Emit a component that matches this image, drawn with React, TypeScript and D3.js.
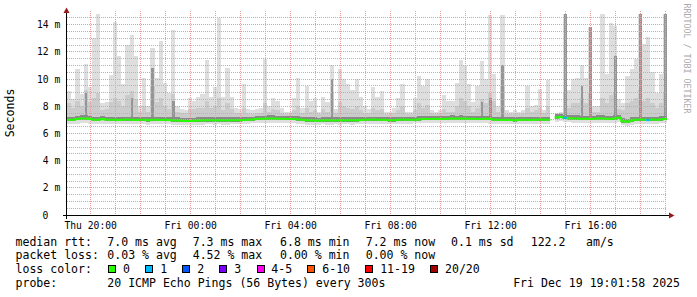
import React from "react";
import * as d3 from "d3";

// ---------- data ----------
const START = new Date(2025, 11, 18, 19, 5);
const END = new Date(2025, 11, 19, 19, 5);
const STEP_MIN = 10;

// top of the lightest smoke (max ping), ms
const smokeMax = [
  9.1, 8.5, 10.7, 8.9, 11.1, 9.4, 13.0, 14.8, 8.2, 8.3,
  10.3, 14.2, 11.7, 9.6, 12.5, 13.2, 11.7, 8.0, 10.1, 8.0,
  12.3, 10.1, 12.8, 9.7, 9.0, 13.6, 8.0, 7.8, 7.7, 8.6,
  8.4, 8.7, 8.9, 11.4, 8.7, 9.4, 14.5, 8.7, 10.8, 8.7,
  7.9, 7.8, 9.6, 7.8, 7.7, 7.8, 7.9, 11.5, 8.0, 8.6,
  8.4, 7.9, 7.6, 7.6, 8.6, 10.1, 7.9, 9.5, 8.4, 8.6,
  7.6, 8.7, 8.3, 11.0, 7.8, 10.7, 10.0, 9.6, 9.2, 10.0,
  8.7, 8.0, 7.8, 9.4, 8.7, 9.1, 7.6, 7.6, 7.9, 8.6,
  9.6, 7.6, 7.6, 8.6, 10.2, 9.5, 10.0, 7.7, 7.6, 7.7,
  8.8, 8.4, 8.4, 9.7, 11.4, 11.0, 9.6, 8.3, 9.5, 11.3,
  10.0, 14.7, 10.4, 8.0, 14.7, 7.7, 7.6, 7.7, 7.6, 7.7,
  9.5, 8.0, 8.1, 9.3, 7.7, 9.9, NaN, 7.5, 7.6, 14.8,
  9.2, 10.0, 10.1, 11.0, 10.1, 13.8, 8.0, 8.0, 14.8, 10.4,
  14.1, 13.9, 8.5, 8.2, 10.2, 10.7, 11.5, 14.8, 12.6, 13.1,
  10.5, 9.0, 10.4, 14.8,
];

// top of the medium smoke, ms
const smokeMid = [
  8.2, 7.9, 8.4, 8.0, 9.2, 8.3, 8.6, 9.0, 7.7, 7.8,
  8.3, 8.6, 8.4, 8.0, 8.8, 9.1, 8.5, 7.6, 8.0, 7.6,
  9.5, 8.3, 8.6, 8.0, 7.8, 8.9, 7.6, 7.5, 7.5, 7.8,
  7.8, 7.9, 7.9, 8.4, 7.9, 8.0, 8.6, 7.7, 8.2, 7.8,
  7.5, 7.5, 7.9, 7.5, 7.4, 7.5, 7.5, 8.2, 7.6, 7.8,
  7.7, 7.5, 7.4, 7.4, 7.7, 8.0, 7.5, 7.9, 7.6, 7.7,
  7.4, 7.8, 7.6, 9.0, 7.5, 8.3, 8.0, 7.9, 7.8, 8.0,
  7.7, 7.5, 7.5, 7.9, 7.7, 7.8, 7.4, 7.4, 7.5, 7.7,
  8.0, 7.4, 7.4, 7.7, 8.2, 7.9, 8.1, 7.5, 7.4, 7.5,
  7.8, 7.6, 7.6, 8.0, 8.6, 8.4, 8.0, 7.6, 7.9, 8.5,
  8.2, 9.0, 8.4, 7.6, 9.5, 7.4, 7.4, 7.5, 7.4, 7.5,
  7.9, 7.6, 7.7, 7.9, 7.5, 8.0, NaN, 7.4, 7.5, 9.0,
  7.9, 8.2, 8.2, 8.6, 8.2, 9.0, 7.6, 7.6, 8.6, 8.2,
  8.8, 9.0, 7.8, 7.7, 8.2, 8.4, 8.6, 9.2, 8.4, 8.6,
  8.2, 7.9, 8.2, 9.0,
];

// dark smoke columns (0 = none), ms
const smokeDark = [
  0, 0, 0, 0, 9.0, 0, 0, 0, 0, 0,
  0, 0, 0, 0, 0, 8.6, 0, 0, 0, 0,
  10.8, 0, 0, 0, 0, 8.4, 0, 0, 0, 0,
  0, 0, 0, 0, 0, 0, 0, 0, 0, 0,
  0, 0, 0, 0, 0, 0, 0, 0, 0, 0,
  0, 0, 0, 0, 0, 0, 0, 0, 0, 0,
  0, 0, 0, 10.0, 0, 0, 0, 0, 0, 0,
  0, 0, 0, 0, 0, 0, 0, 0, 0, 0,
  0, 0, 0, 0, 0, 0, 0, 0, 0, 0,
  0, 0, 0, 0, 0, 0, 0, 0, 0, 8.3,
  0, 8.6, 0, 0, 11.0, 0, 0, 0, 0, 0,
  0, 0, 0, 0, 0, 0, 0, 0, 0, 14.8,
  0, 0, 0, 9.5, 0, 13.8, 0, 0, 0, 0,
  0, 11.7, 0, 0, 0, 0, 0, 14.8, 0, 0,
  0, 0, 0, 14.8,
];

// bottom of the smoke (min ping), ms
const smokeLow = [
  6.7, 6.7, 6.72, 6.75, 6.75, 6.72, 6.7, 6.7, 6.72, 6.7,
  6.68, 6.7, 6.7, 6.68, 6.7, 6.7, 6.68, 6.7, 6.7, 6.65,
  6.68, 6.7, 6.68, 6.7, 6.68, 6.65, 6.65, 6.63, 6.62, 6.62,
  6.63, 6.65, 6.65, 6.67, 6.67, 6.65, 6.67, 6.65, 6.65, 6.67,
  6.67, 6.68, 6.7, 6.72, 6.75, 6.77, 6.78, 6.8, 6.8, 6.78,
  6.77, 6.75, 6.75, 6.75, 6.73, 6.7, 6.67, 6.65, 6.65, 6.63,
  6.65, 6.67, 6.65, 6.65, 6.67, 6.65, 6.67, 6.67, 6.65, 6.68,
  6.7, 6.7, 6.72, 6.7, 6.7, 6.68, 6.67, 6.67, 6.7, 6.72,
  6.7, 6.7, 6.7, 6.73, 6.75, 6.75, 6.75, 6.77, 6.75, 6.75,
  6.78, 6.8, 6.78, 6.8, 6.77, 6.78, 6.78, 6.75, 6.75, 6.77,
  6.75, 6.7, 6.7, 6.68, 6.7, 6.68, 6.67, 6.68, 6.7, 6.7,
  6.68, 6.7, 6.72, 6.7, 6.7, 6.7, NaN, 6.87, 6.9, 6.85,
  6.82, 6.8, 6.8, 6.75, 6.77, 6.75, 6.78, 6.8, 6.8, 6.77,
  6.75, 6.8, 6.85, 6.6, 6.55, 6.65, 6.7, 6.72, 6.7, 6.68,
  6.72, 6.7, 6.73, 6.75,
];

// median rtt, ms
const median = [
  7.0, 7.0, 7.05, 7.1, 7.1, 7.05, 7.0, 7.0, 7.05, 7.0,
  7.0, 7.0, 6.98, 7.0, 7.02, 7.0, 6.98, 7.0, 7.0, 6.97,
  7.0, 7.0, 6.98, 7.0, 6.98, 6.95, 6.95, 6.93, 6.92, 6.92,
  6.93, 6.95, 6.95, 6.97, 6.97, 6.95, 6.97, 6.95, 6.95, 6.97,
  6.97, 6.97, 6.98, 7.0, 7.02, 7.05, 7.07, 7.08, 7.1, 7.1,
  7.08, 7.07, 7.05, 7.05, 7.05, 7.03, 7.0, 6.97, 6.95, 6.95,
  6.93, 6.95, 6.97, 6.95, 6.95, 6.97, 6.95, 6.97, 6.97, 6.95,
  6.98, 7.0, 7.0, 7.02, 7.0, 7.0, 6.98, 6.97, 6.97, 7.0,
  7.02, 7.0, 7.0, 7.0, 7.03, 7.05, 7.05, 7.05, 7.07, 7.05,
  7.05, 7.08, 7.1, 7.08, 7.1, 7.07, 7.08, 7.08, 7.05, 7.05,
  7.07, 7.05, 7.0, 7.0, 6.98, 7.0, 6.98, 6.97, 6.98, 7.0,
  7.0, 6.98, 7.0, 7.02, 7.0, 7.0, NaN, 7.17, 7.2, 7.15,
  7.12, 7.1, 7.1, 7.05, 7.07, 7.05, 7.08, 7.1, 7.1, 7.07,
  7.05, 7.1, 7.15, 6.9, 6.85, 6.95, 7.0, 7.02, 7.0, 6.98,
  7.02, 7.0, 7.03, 7.05,
];

// lost pings per step (of 20)
const lossCount = [
  0, 0, 0, 0, 0, 0, 0, 0, 0, 0, 0, 0, 0, 0, 0, 0, 0, 0, 0, 0,
  0, 0, 0, 0, 0, 0, 0, 0, 0, 0, 0, 0, 0, 0, 0, 0, 0, 0, 0, 0,
  0, 0, 0, 0, 0, 0, 0, 0, 0, 0, 0, 0, 0, 0, 0, 0, 0, 0, 0, 0,
  0, 0, 0, 0, 0, 0, 0, 0, 0, 0, 0, 0, 0, 0, 0, 0, 0, 0, 0, 0,
  0, 0, 0, 0, 0, 0, 0, 0, 0, 0, 0, 0, 0, 0, 0, 0, 0, 0, 0, 0,
  0, 0, 0, 0, 0, 0, 0, 0, 0, 0, 0, 0, 0, 0, 0, 0, 0, 0, 0, 1,
  0, 0, 0, 0, 0, 0, 0, 0, 0, 0, 0, 0, 0, 0, 0, 0, 0, 0, 0, 1,
  0, 0, 0, 0,
];

const yTicks = [0, 2, 4, 6, 8, 10, 12, 14];
const lossLabels = ["0", "1", "2", "3", "4-5", "6-10", "11-19", "20/20"];
const lossMax = [0, 1, 2, 3, 5, 10, 19, 20];
const lossColors = ["#26ff00", "#00b8ff", "#0059ff", "#7a00ff", "#ff00f0", "#ff5500", "#ff0000", "#a10000"];
const rttStats = ["7.0 ms avg", "7.3 ms max", "6.8 ms min", "7.2 ms now", "0.1 ms sd", "122.2", "am/s"];
const lossStats = ["0.03 % avg", "4.52 % max", "0.00 % min", "0.00 % now"];
const probeText = "20 ICMP Echo Pings (56 Bytes) every 300s";
const dateText = "Fri Dec 19 19:01:58 2025";

// ---------- chart ----------
const MONO = "'DejaVu Sans Mono', monospace";

function lossColor(n: number) {
  const k = lossMax.findIndex((m) => n <= m);
  return lossColors[k < 0 ? lossColors.length - 1 : k];
}

export default function App() {
  const x = d3.scaleTime().domain([START, END]).range([67, 667]);
  const y = d3.scaleLinear().domain([0, 15]).range([215, 11]);
  const tAt = (i: number) => d3.timeMinute.offset(START, i * STEP_MIN);

  const bins = median.map((m, i) => ({
    i,
    x0: x(tAt(i)),
    x1: x(tAt(i + 1)),
    med: m,
    lo: smokeLow[i],
    mid: smokeMid[i],
    hi: smokeMax[i],
    dark: smokeDark[i],
    loss: lossCount[i],
  }));
  const valid = bins.filter((b) => !isNaN(b.med));

  const medPts: { x: number; v: number }[] = [];
  bins.forEach((b) => {
    medPts.push({ x: b.x0, v: b.med });
    medPts.push({ x: b.x1, v: b.med });
  });
  const medLine = d3
    .line<{ x: number; v: number }>()
    .defined((d) => !isNaN(d.v))
    .x((d) => d.x)
    .y((d) => y(d.v));

  const hours = d3.timeHour.range(d3.timeHour.ceil(START), END);
  const labelHours = hours.filter((h) => h.getHours() % 4 === 0);
  const fmt = d3.timeFormat("%a %H:%M");
  const minorY = d3.range(0.5, 15, 0.5).filter((v) => v % 2 !== 0);
  const majorY = yTicks.filter((v) => v > 0);

  const px = (v: number) => Math.round(v) + 0.5;
  const py = (v: number) => Math.floor(v) + 0.5;

  const statX = [107.3, 192.7, 280, 365.7, 451, 530.7, 586];
  const rowY = [245.7, 259.4, 273.1, 286.8];
  const charW = 6.95;

  const legendItems: { sx: number; lx: number; label: string; color: string }[] = [];
  let cx = 108.3;
  lossLabels.forEach((lab, k) => {
    legendItems.push({ sx: cx, lx: cx + 14.8, label: lab, color: lossColors[k] });
    cx = cx + 14.8 + lab.length * charW + 15.3;
  });

  return (
    <svg
      width={697}
      height={297}
      style={{ position: "absolute", left: 0, top: 0, background: "#fff" }}
      fontFamily={MONO}
    >
      <rect x={0} y={0} width={697} height={297} fill="#ffffff" />

      {/* smoke */}
      <g shapeRendering="crispEdges">
        {valid.map((b) => (
          <rect key={"l" + b.i} x={b.x0} width={b.x1 - b.x0} y={y(b.hi)} height={y(b.lo) - y(b.hi)} fill="#dedede" />
        ))}
        {valid.map((b) => (
          <rect
            key={"m" + b.i}
            x={b.x0}
            width={b.x1 - b.x0}
            y={y(b.mid)}
            height={y(b.med - 0.1) - y(b.mid)}
            fill="#cbcbcb"
          />
        ))}
        {valid
          .filter((b) => b.dark > 0)
          .map((b) => (
            <rect
              key={"d" + b.i}
              x={b.x0 + 1}
              width={b.x1 - b.x0 - 1.5}
              y={y(b.dark)}
              height={y(b.med) - y(b.dark)}
              fill="#959595"
            />
          ))}
        {valid.map((b) => (
          <rect
            key={"c" + b.i}
            x={b.x0}
            width={b.x1 - b.x0}
            y={y(b.med + 0.22)}
            height={y(b.med - 0.1) - y(b.med + 0.22)}
            fill="#8a8a8a"
          />
        ))}
      </g>

      {/* grid */}
      <g shapeRendering="crispEdges" strokeWidth={1} strokeDasharray="1,1">
        {minorY.map((v) => (
          <line key={"hy" + v} x1={67} x2={667} y1={py(y(v))} y2={py(y(v))} stroke="#b4b4b4" />
        ))}
        {hours
          .filter((h) => h.getHours() % 2 === 1)
          .map((h) => (
            <line key={"vx" + +h} x1={px(x(h))} x2={px(x(h))} y1={11} y2={215} stroke="#b4b4b4" />
          ))}
        {majorY.map((v) => (
          <line key={"My" + v} x1={67} x2={667} y1={py(y(v))} y2={py(y(v))} stroke="#e89a9a" />
        ))}
        {hours
          .filter((h) => h.getHours() % 2 === 0)
          .map((h) => (
            <line key={"Mx" + +h} x1={px(x(h))} x2={px(x(h))} y1={11} y2={215} stroke="#e89a9a" />
          ))}
      </g>

      {/* median line */}
      <path d={medLine(medPts) || ""} fill="none" stroke={lossColors[0]} strokeWidth={2} />
      {valid
        .filter((b) => b.loss > 0)
        .map((b) => (
          <line
            key={"ls" + b.i}
            x1={b.x0}
            x2={b.x1}
            y1={y(b.med)}
            y2={y(b.med)}
            stroke={lossColor(b.loss)}
            strokeWidth={2}
          />
        ))}

      {/* axes */}
      <g shapeRendering="crispEdges">
        <line x1={62.5} x2={670} y1={215.5} y2={215.5} stroke="#000" />
        <line x1={66.5} x2={66.5} y1={219} y2={12} stroke="#000" />
      </g>
      <polygon points="63.5,13 69.5,13 66.5,7.5" fill="#9a1a1a" />
      <polygon points="669,212.5 669,218.5 674.5,215.5" fill="#9a1a1a" />

      {/* y tick labels */}
      <g fontSize={9.7} fill="#000">
        {yTicks.map((v) => (
          <text
            key={"yt" + v}
            x={v === 0 ? 48.3 : 60.3}
            y={y(v) + 3.6}
            textAnchor="end"
            xmlSpace="preserve"
          >
            {v === 0 ? "0" : `${v} m`}
          </text>
        ))}
      </g>

      {/* x tick labels */}
      <g fontSize={9.7} fill="#000">
        {labelHours.map((h) => (
          <text key={"xt" + +h} x={x(h) + 0.8} y={228.5} textAnchor="middle">
            {fmt(h)}
          </text>
        ))}
      </g>

      {/* axis title */}
      <text
        transform="translate(14,113) rotate(-90)"
        textAnchor="middle"
        fontSize={11.55}
        fill="#000"
      >
        Seconds
      </text>

      {/* watermark */}
      <text transform="translate(683.5,3.5) rotate(90)" fontSize={8.3} fill="#aaaaaa">
        RRDTOOL / TOBI OETIKER
      </text>

      {/* legend */}
      <g fontSize={11.55} fill="#000" xmlSpace="preserve">
        <text x={15.5} y={rowY[0]}>median rtt:</text>
        {rttStats.map((s, k) => (
          <text key={"r" + k} x={statX[k]} y={rowY[0]}>
            {s}
          </text>
        ))}
        <text x={15.5} y={rowY[1]}>packet loss:</text>
        {lossStats.map((s, k) => (
          <text key={"p" + k} x={statX[k]} y={rowY[1]}>
            {s}
          </text>
        ))}
        <text x={15.5} y={rowY[2]}>loss color:</text>
        {legendItems.map((it) => (
          <g key={"lg" + it.label}>
            <rect x={Math.round(it.sx) + 0.5} y={265.5} width={7} height={7} fill={it.color} stroke="#000" />
            <text x={it.lx} y={rowY[2]}>
              {it.label}
            </text>
          </g>
        ))}
        <text x={15.5} y={rowY[3]}>probe:</text>
        <text x={statX[0]} y={rowY[3]}>{probeText}</text>
        <text x={680} y={rowY[3]} textAnchor="end">
          {dateText}
        </text>
      </g>
    </svg>
  );
}
